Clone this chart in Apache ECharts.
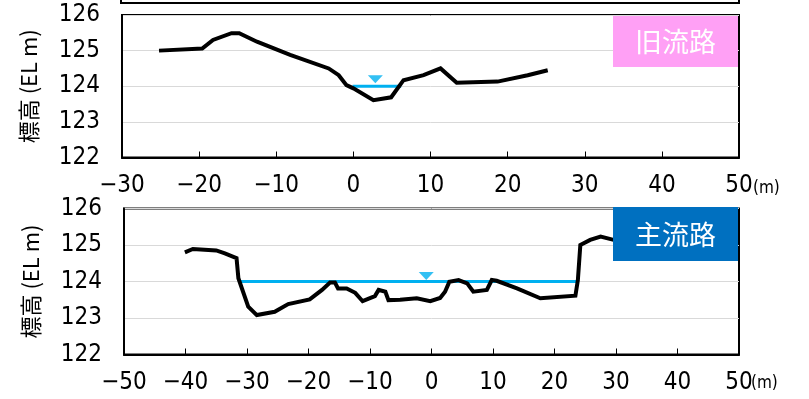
<!DOCTYPE html>
<html>
<head>
<meta charset="utf-8">
<script src="https://cdn.jsdelivr.net/npm/echarts@6/dist/echarts.min.js"></script>
<style>
html,body{margin:0;padding:0;background:#fff;}
#chart{width:809px;height:399px;}
</style>
</head>
<body>
<div id="chart"></div>
<script>
// 旧流路 横断
var oldX = [-25.2, -19.6, -18.2, -15.8, -14.8, -12.5, -8.2, -3.2, -1.9, -0.9, 0.0, 2.6, 4.9, 6.5, 9.1, 11.3, 13.4, 18.7, 22.6, 25.2];
var oldY = [125.0, 125.06, 125.3, 125.49, 125.49, 125.25, 124.88, 124.5, 124.31, 124.03, 123.94, 123.61, 123.69, 124.17, 124.31, 124.5, 124.1, 124.13, 124.31, 124.45];
var oldWaterX = [-0.1, 6.2];
var oldWaterY = 124.0;
var oldMarkX = 2.85;
var oldMarkY = 124.2;

// 主流路 横断
var mainX = [-40.1, -38.8, -35.0, -33.6, -31.7, -31.4, -29.8, -28.4, -25.5, -23.3, -19.8, -17.8, -16.5, -15.7, -15.2, -13.8, -12.4, -11.2, -9.2, -8.6, -7.5, -7.0, -5.1, -2.4, -0.2, 1.4, 2.2, 2.9, 4.4, 5.8, 6.8, 9.0, 9.8, 10.6, 13.9, 17.7, 23.4, 23.8, 24.2, 25.8, 27.5, 29.6, 32.0];
var mainY = [124.8, 124.89, 124.85, 124.77, 124.64, 124.09, 123.31, 123.08, 123.17, 123.38, 123.51, 123.77, 123.97, 123.97, 123.81, 123.81, 123.69, 123.46, 123.6, 123.77, 123.72, 123.49, 123.5, 123.54, 123.46, 123.55, 123.72, 123.99, 124.04, 123.95, 123.72, 123.77, 124.04, 124.02, 123.81, 123.54, 123.61, 124.04, 125.0, 125.14, 125.23, 125.14, 125.1];
var mainWaterX = [-31.2, 23.7];
var mainWaterY = 124.0;
var mainMarkX = -0.85;
var mainMarkY = 124.15;

var yTicks = [122, 123, 124, 125, 126];

function pairs(xs, ys){
    var out = [];
    for(var i=0;i<xs.length;i++){
        out.push([xs[i], ys[i]]);
    }
    return out;
}

var numFont = '"Liberation Sans Narrow","DejaVu Sans Condensed","Roboto Condensed",sans-serif';
var jpFont = '"Noto Sans CJK JP",sans-serif';

function xAxisOf(idx, min, max){
    return {
        gridIndex: idx,
        type: 'value',
        min: min,
        max: max,
        interval: 10,
        axisLine: {show: true, onZero: false, lineStyle: {color: '#000', width: 2}},
        axisTick: {show: true, inside: true, length: 6, lineStyle: {color: '#000', width: 1}},
        splitLine: {show: false},
        axisLabel: {
            margin: 16,
            fontSize: 24,
            fontFamily: numFont,
            color: '#000',
            formatter: function(v){ return String(v).replace('-', '\u2212'); }
        }
    };
}

function yAxisOf(idx){
    return {
        gridIndex: idx,
        type: 'value',
        min: yTicks[0],
        max: yTicks[yTicks.length-1],
        interval: 1,
        name: '標高 (EL m)',
        nameLocation: 'middle',
        nameRotate: 90,
        nameGap: 82,
        nameTextStyle: {fontSize: 22, fontFamily: jpFont, color: '#000'},
        axisLine: {show: true, onZero: false, lineStyle: {color: '#000', width: 2}},
        axisTick: {show: false},
        splitLine: {show: true, lineStyle: {color: '#d9d9d9', width: 1}},
        axisLabel: {margin: 22, fontSize: 24, fontFamily: numFont, color: '#000'}
    };
}

var myChart = echarts.init(document.getElementById('chart'));
var option = {
    backgroundColor: '#fff',
    animation: false,
    grid: [
        {left: 122, top: 15, width: 617, height: 142.5, show: true, borderColor: '#000', borderWidth: 2, containLabel: false},
        {left: 124, top: 208.5, width: 615, height: 146, show: true, borderColor: '#000', borderWidth: 2, containLabel: false}
    ],
    xAxis: [xAxisOf(0, -30, 50), xAxisOf(1, -50, 50)],
    yAxis: [yAxisOf(0), yAxisOf(1)],
    series: [
        {
            type: 'line', xAxisIndex: 0, yAxisIndex: 0, z: 3,
            data: pairs(oldWaterX, [oldWaterY, oldWaterY]),
            symbol: 'none', lineStyle: {color: '#00b0f0', width: 3}
        },
        {
            type: 'line', xAxisIndex: 0, yAxisIndex: 0, z: 4,
            data: pairs(oldX, oldY),
            symbol: 'none', lineStyle: {color: '#000', width: 4, join: 'miter'}
        },
        {
            type: 'scatter', xAxisIndex: 0, yAxisIndex: 0, z: 5,
            data: [[oldMarkX, oldMarkY]],
            symbol: 'triangle', symbolRotate: 180, symbolSize: [15, 8],
            itemStyle: {color: '#00b0f0'}
        },
        {
            type: 'line', xAxisIndex: 1, yAxisIndex: 1, z: 3,
            data: pairs(mainWaterX, [mainWaterY, mainWaterY]),
            symbol: 'none', lineStyle: {color: '#00b0f0', width: 3}
        },
        {
            type: 'line', xAxisIndex: 1, yAxisIndex: 1, z: 4,
            data: pairs(mainX, mainY),
            symbol: 'none', lineStyle: {color: '#000', width: 4, join: 'miter'}
        },
        {
            type: 'scatter', xAxisIndex: 1, yAxisIndex: 1, z: 5,
            data: [[mainMarkX, mainMarkY]],
            symbol: 'triangle', symbolRotate: 180, symbolSize: [15, 8],
            itemStyle: {color: '#00b0f0'}
        }
    ],
    graphic: [
        // 上部の凡例枠（切れている）
        {type: 'rect', z: 100, shape: {x: 121, y: -30, width: 618, height: 33}, style: {fill: '#fff', stroke: '#000', lineWidth: 2}},
        // ラベル
        {type: 'rect', z: 100, shape: {x: 613, y: 16, width: 125, height: 51}, style: {fill: '#ffa0f5'}},
        {type: 'text', z: 101, x: 675.5, y: 42, style: {text: '旧流路', fill: '#fff', fontSize: 27, fontFamily: jpFont, align: 'center', verticalAlign: 'middle'}},
        {type: 'rect', z: 100, shape: {x: 613, y: 207, width: 125, height: 54}, style: {fill: '#0070c0'}},
        {type: 'text', z: 101, x: 675.5, y: 235, style: {text: '主流路', fill: '#fff', fontSize: 27, fontFamily: jpFont, align: 'center', verticalAlign: 'middle'}},
        // 単位
        {type: 'text', z: 101, x: 753, y: 189, style: {text: '(m)', fill: '#000', fontSize: 17, fontFamily: numFont, verticalAlign: 'middle'}},
        {type: 'text', z: 101, x: 751, y: 384, style: {text: '(m)', fill: '#000', fontSize: 17, fontFamily: numFont, verticalAlign: 'middle'}}
    ]
};
myChart.setOption(option);
</script>
</body>
</html>
